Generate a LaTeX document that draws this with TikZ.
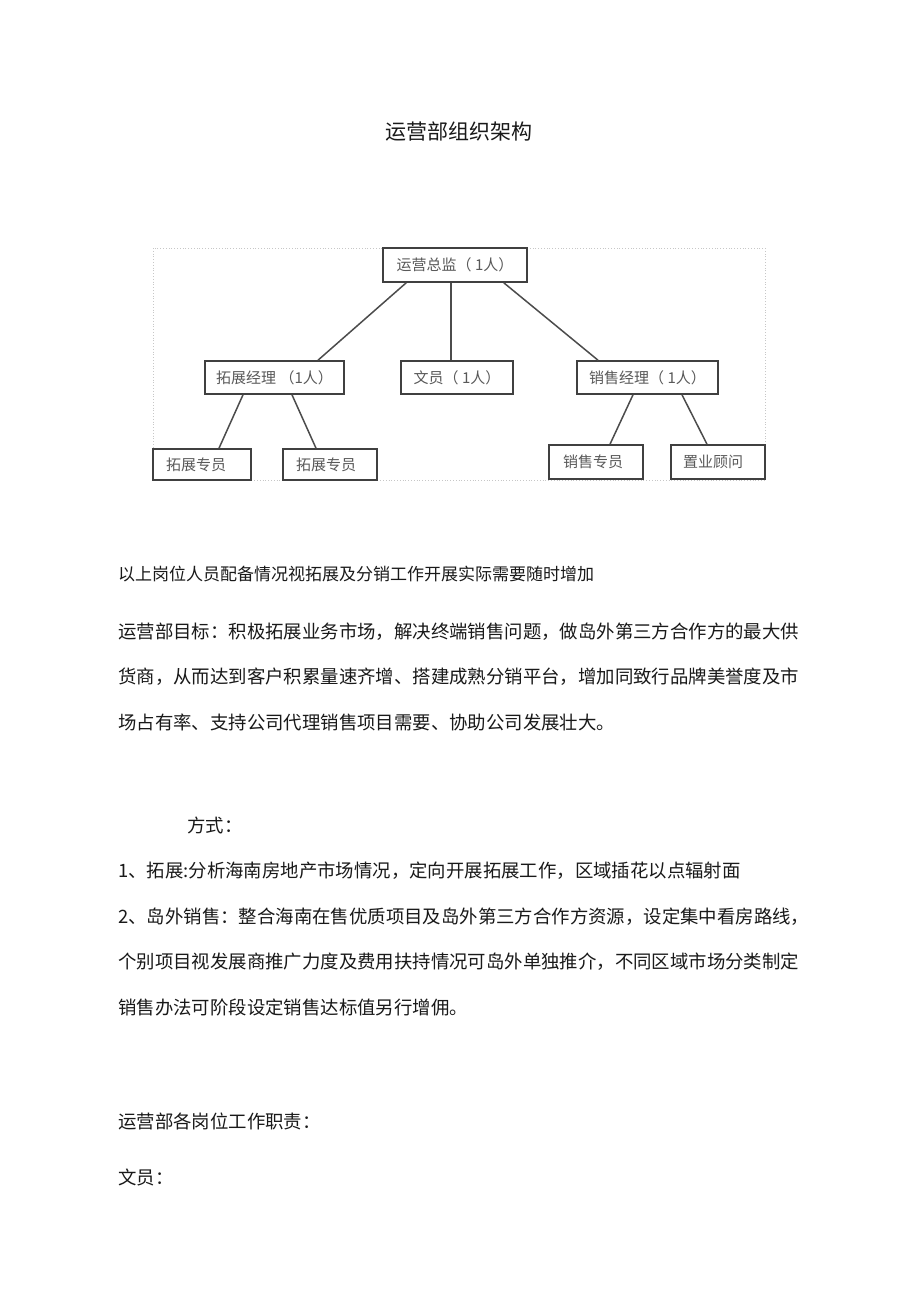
\documentclass[tikz,border=0pt]{standalone}
\usepackage{fontspec}
\setmainfont{Noto Sans CJK SC}
\usetikzlibrary{calc}
\begin{document}
\begin{tikzpicture}[x=1pt,y=-1pt,
  box/.style={draw=black!75, line width=1.6pt, rectangle, inner sep=0pt, text=black!65,
    font=\fontsize{15}{15}\selectfont},
  link/.style={draw=black!70, line width=1.5pt},
  frame/.style={draw=black!22, dotted, line width=0.8pt},
  body/.style={anchor=west, inner sep=0pt, text=black!90, font=\fontsize{18.4}{18.4}\selectfont},
  small/.style={anchor=west, inner sep=0pt, text=black!90, font=\fontsize{17}{17}\selectfont},
  title/.style={inner sep=0pt, text=black!90, font=\fontsize{21}{21}\selectfont},
]
\useasboundingbox (0,0) rectangle (920,1301);
\fill[white] (0,0) rectangle (920,1301);

% title
\node[title] (title) at (459,132) {运营部组织架构};

% chart frame
\draw[frame] (153,248) rectangle (765,480);

% boxes
\node[box, minimum width=144, minimum height=34] (top) at (455,265) {运营总监（ 1人）};
\node[box, minimum width=139, minimum height=33] (m1) at (274.5,377.5) {拓展经理 （1人）};
\node[box, minimum width=112, minimum height=33] (m2) at (457,377.5) {文员（ 1人）};
\node[box, minimum width=141, minimum height=33] (m3) at (647.5,377.5) {销售经理（ 1人）};
\node[box, minimum width=98, minimum height=31, text width=72, align=left] (b1) at (202,464.5) {拓展专员};
\node[box, minimum width=94, minimum height=31, text width=68, align=left] (b2) at (330,464.5) {拓展专员};
\node[box, minimum width=94, minimum height=34, text width=66, align=left] (b3) at (596,462) {销售专员};
\node[box, minimum width=94, minimum height=34, text width=70, align=left] (b4) at (718,462) {置业顾问};

% connectors
\draw[link] ($(top.south west)+(24,0)$) -- ($(m1.north)+(43.5,0)$);
\draw[link] ($(top.south)+(-4,0)$) -- ($(m2.north)+(-6,0)$);
\draw[link] ($(top.south east)+(-24,0)$) -- ($(m3.north)+(-49.5,0)$);
\draw[link] ($(m1.south)+(-31.5,0)$) -- ($(b1.north)+(17,0)$);
\draw[link] ($(m1.south)+(17.5,0)$) -- ($(b2.north)+(-14,0)$);
\draw[link] ($(m3.south)+(-14.5,0)$) -- ($(b3.north)+(14,0)$);
\draw[link] ($(m3.south)+(34.5,0)$) -- ($(b4.north)+(-11,0)$);

% body text
\node[small] (t1) at (118,574) {以上岗位人员配备情况视拓展及分销工作开展实际需要随时增加};
\node[body] (t2) at (118,632) {运营部目标：积极拓展业务市场，解决终端销售问题，做岛外第三方合作方的最大供};
\node[body] (t3) at (118,677) {货商，从而达到客户积累量速齐增、搭建成熟分销平台，增加同致行品牌美誉度及市};
\node[body] (t4) at (118,722) {场占有率、支持公司代理销售项目需要、协助公司发展壮大。};
\node[body] (t5) at (187,825) {方式：};
\node[body] (t6) at (118,871) {1、拓展:分析海南房地产市场情况，定向开展拓展工作，区域插花以点辐射面};
\node[body] (t7) at (118,917) {2、岛外销售：整合海南在售优质项目及岛外第三方合作方资源，设定集中看房路线，};
\node[body] (t8) at (118,962) {个别项目视发展商推广力度及费用扶持情况可岛外单独推介，不同区域市场分类制定};
\node[body] (t9) at (118,1007) {销售办法可阶段设定销售达标值另行增佣。};
\node[body] (t10) at (118,1121) {运营部各岗位工作职责：};
\node[body] (t11) at (118,1177) {文员：};
\end{tikzpicture}
\end{document}
